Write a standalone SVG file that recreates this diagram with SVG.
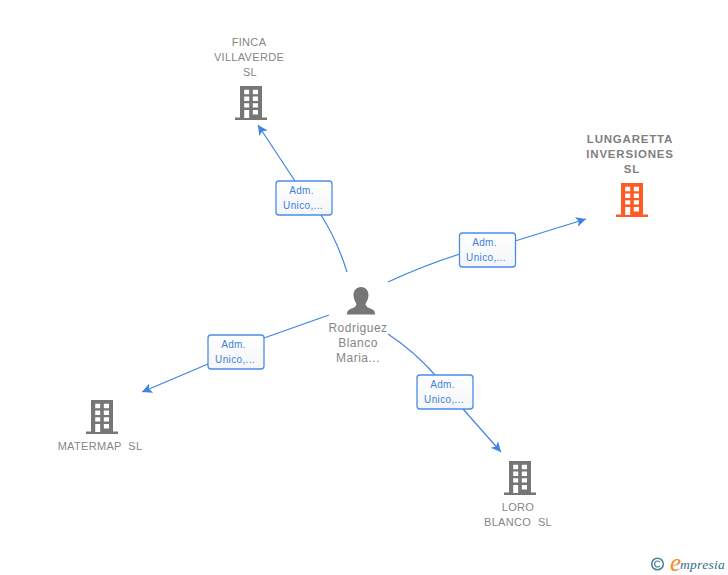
<svg xmlns="http://www.w3.org/2000/svg" width="728" height="575" viewBox="0 0 728 575">
<style>
.lbl{font-family:"Liberation Sans",Arial,sans-serif;font-size:11px;fill:#868686;text-anchor:middle;letter-spacing:.32px;white-space:pre}
.main{font-weight:bold;font-size:11.500px;letter-spacing:.8px;fill:#808080}
.per{font-size:12px;letter-spacing:.5px}
.edge{font-family:"Liberation Sans",Arial,sans-serif;font-size:10px;fill:#3d7fdc;text-anchor:middle;letter-spacing:.35px}
.box{fill:url(#bg);stroke:#4a8de6;stroke-width:1.300}
.con{fill:none;stroke:#3f83e3;stroke-width:1.200}
</style>
<defs>
<linearGradient id="bg" x1="0" y1="0" x2="0" y2="1"><stop offset="0" stop-color="#fff"/><stop offset="1" stop-color="#f4f5f8"/></linearGradient>
<marker id="arr" markerUnits="userSpaceOnUse" markerWidth="12" markerHeight="12" refX="10" refY="5" orient="auto"><path d="M0 0L10 5L0 10L2.500 5Z" fill="#3f83e3"/></marker>
<path id="bld" fill-rule="evenodd" d="M0 0H22V31.500H27V34H-5V31.500H0ZM4.200 3.800V8.200H9.200V3.800ZM12.800 3.800V8.200H18V3.800ZM4.200 10.600V15H9.200V10.600ZM12.800 10.600V15H18V10.600ZM4.200 17.200V21.600H9.200V17.200ZM12.800 17.200V21.600H18V17.200ZM4.200 24V32H9.200V24ZM12.800 24V28.400H18V24Z"/>
</defs>
<g id="connectors" class="connectors">
<path class="con" d="M347 272Q337 240 321 215"/>
<path class="con" marker-end="url(#arr)" d="M295 181L258 125"/>
<path class="con" d="M388 282Q425 265 460 254"/>
<path class="con" marker-end="url(#arr)" d="M515 241L586 219"/>
<path class="con" d="M329 315L264 338"/>
<path class="con" marker-end="url(#arr)" d="M208 364L142 392"/>
<path class="con" d="M388 334Q415 352 435 375"/>
<path class="con" marker-end="url(#arr)" d="M463 409L501 452"/>
</g>
<g id="edge-finca"><rect class="box" x="276" y="181" width="56" height="34" rx="3"/><text class="edge" x="301.500" y="194">Adm.</text><text class="edge" x="303" y="209">Unico,...</text></g>
<g id="edge-lungaretta"><rect class="box" x="459.500" y="233" width="56" height="34" rx="3"/><text class="edge" x="484.500" y="246">Adm.</text><text class="edge" x="486" y="261">Unico,...</text></g>
<g id="edge-matermap"><rect class="box" x="208" y="335" width="56" height="34" rx="3"/><text class="edge" x="233.500" y="348">Adm.</text><text class="edge" x="235" y="363">Unico,...</text></g>
<g id="edge-loro"><rect class="box" x="417" y="375" width="56" height="34" rx="3"/><text class="edge" x="442.500" y="388">Adm.</text><text class="edge" x="444" y="403">Unico,...</text></g>
<g id="node-finca"><text class="lbl" x="249" y="46">FINCA</text><text class="lbl" x="249" y="61">VILLAVERDE</text><text class="lbl" x="250" y="76">SL</text><use href="#bld" x="240" y="86" fill="#767676"/></g>
<g id="node-lungaretta"><text class="lbl main" x="630" y="143">LUNGARETTA</text><text class="lbl main" x="630" y="158">INVERSIONES</text><text class="lbl main" x="632" y="173">SL</text><use href="#bld" x="621" y="183" fill="#ff5a26"/></g>
<g id="node-person"><path fill="#767676" d="M361 287C366 287 368.500 291 368.500 295C368.500 299 366.500 302 365.500 304C366 307 369 308 371.500 309C374.500 310 375 312 375 314.500H347C347 312 347.500 310 350.500 309C353 308 356 307 356.500 304C355.500 302 353.500 299 353.500 295C353.500 291 356 287 361 287Z"/><text class="lbl per" x="358" y="332">Rodriguez</text><text class="lbl per" x="358" y="347">Blanco</text><text class="lbl per" x="358" y="362">Maria...</text></g>
<g id="node-matermap"><use href="#bld" x="91" y="400" fill="#767676"/><text class="lbl" x="100" y="450">MATERMAP  SL</text></g>
<g id="node-loro"><use href="#bld" x="509" y="461" fill="#767676"/><text class="lbl" x="518" y="511">LORO</text><text class="lbl" x="518" y="526">BLANCO  SL</text></g>
<g id="logo"><circle cx="657.500" cy="564" r="5.800" fill="none" stroke="#4a7f97" stroke-width="1.500"/><path d="M660 562.200A3 3 0 1 0 660 565.800" fill="none" stroke="#4a7f97" stroke-width="1.200"/><text x="670" y="571" font-family="'Liberation Serif',serif" font-style="italic" font-size="25" fill="#f08a1e">e</text><text x="680" y="569" font-family="'Liberation Serif',serif" font-style="italic" font-size="13.500" fill="#2f6f8f" letter-spacing=".3">mpresia</text></g>
</svg>
